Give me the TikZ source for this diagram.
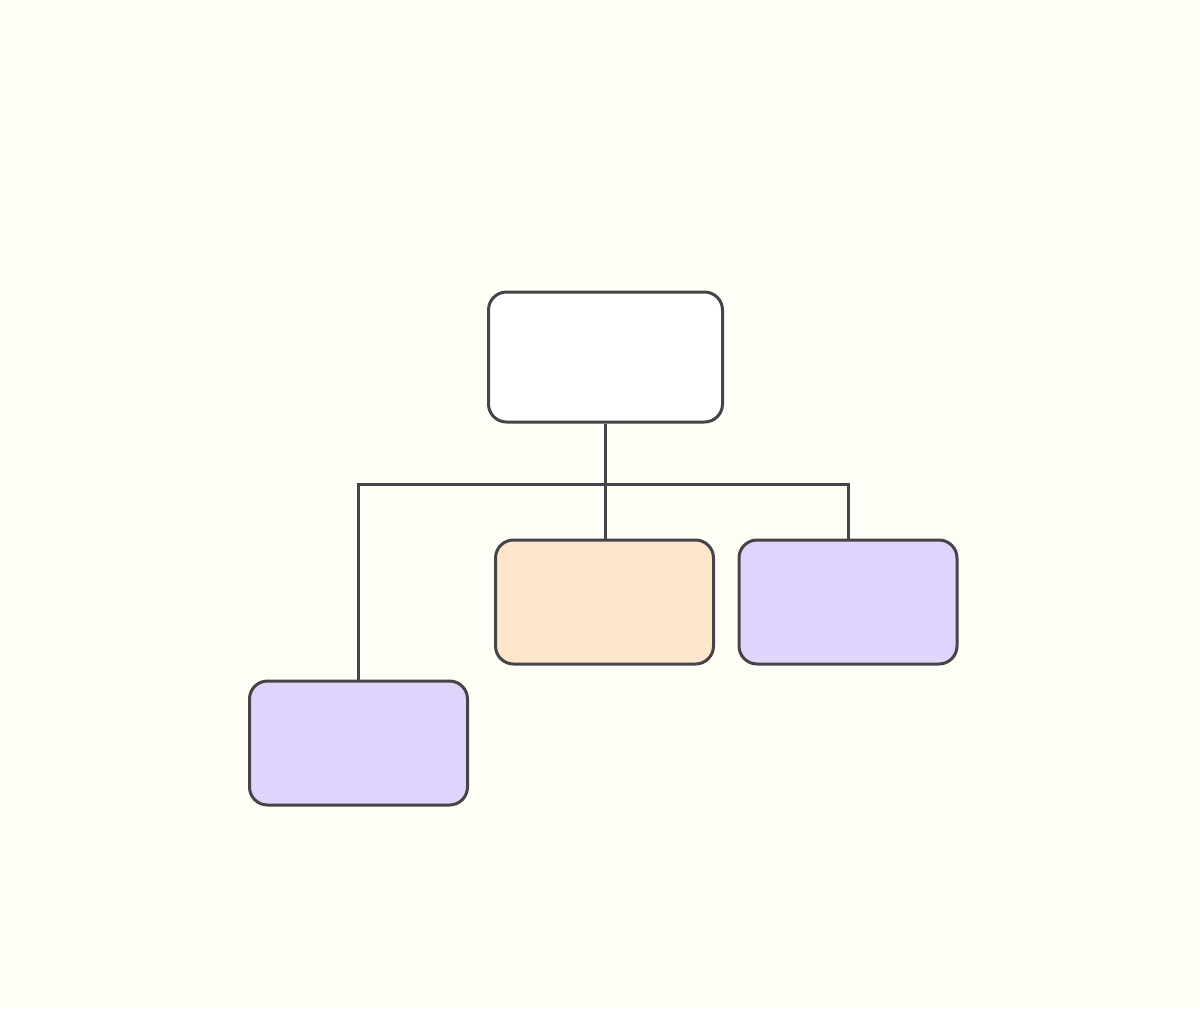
\documentclass[tikz,border=0pt]{standalone}
\usepackage{xcolor}
\usepackage{tikz}

\definecolor{paper}{HTML}{FEFDF6}
\definecolor{edge}{HTML}{464448}
\definecolor{peach}{HTML}{FDE6CB}
\definecolor{lavender}{HTML}{E0D4FC}

\begin{document}
\begin{tikzpicture}[x=0.5pt, y=-0.5pt]
    % Define styles
    \tikzstyle{card} = [rectangle, rounded corners=9pt, minimum width=109pt, minimum height=62pt, draw=edge, line width=1.5pt]
    \tikzstyle{link} = [draw=edge, line width=1.5pt]

    % Background
    \fill [paper] (0,0) rectangle (1200,1008);
    \useasboundingbox (0,0) rectangle (1200,1008);

    % Nodes
    \node [card, fill=white, minimum width=117pt, minimum height=65pt] (root) at (605.5,357) {};
    \node [card, fill=peach] (childmid) at (604.5,602) {};
    \node [card, fill=lavender] (childright) at (848,602) {};
    \node [card, fill=lavender] (childleft) at (358.5,743) {};
    \coordinate (junc) at (605.5,484);

    % Connectors
    \draw [link] (root.south) -- (junc);
    \draw [link] (junc) -- (junc |- childmid.north);
    \draw [link] (junc) -| (childleft.north);
    \draw [link] (junc) -| (childright.north);
\end{tikzpicture}
\end{document}
